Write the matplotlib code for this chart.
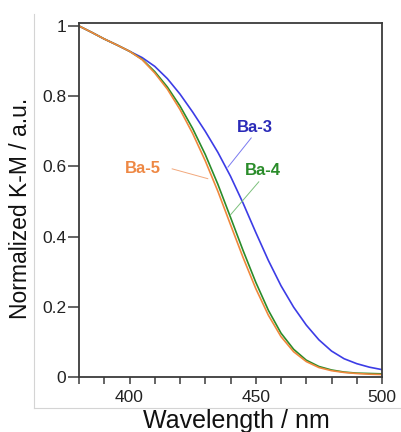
import matplotlib
matplotlib.use("Agg")
import matplotlib.pyplot as plt
from matplotlib.lines import Line2D
from matplotlib.ticker import MultipleLocator

plt.rcParams['font.family'] = ['Liberation Sans', 'DejaVu Sans']

# Wavelength grid (nm) and normalized K-M spectra
wavelength = [380, 385, 390, 395, 400, 405, 410, 415, 420, 425, 430, 435, 440,
              445, 450, 455, 460, 465, 470, 475, 480, 485, 490, 495, 500]
ba3 = [1.000, 0.982, 0.963, 0.946, 0.928, 0.910, 0.885, 0.850, 0.806, 0.755,
       0.700, 0.640, 0.572, 0.495, 0.412, 0.332, 0.260, 0.199, 0.148, 0.106,
       0.074, 0.052, 0.038, 0.028, 0.021]
ba4 = [1.000, 0.982, 0.963, 0.946, 0.928, 0.905, 0.870, 0.826, 0.772, 0.708,
       0.634, 0.549, 0.455, 0.360, 0.270, 0.190, 0.125, 0.079, 0.048, 0.030,
       0.020, 0.014, 0.011, 0.010, 0.009]
ba5 = [1.000, 0.982, 0.963, 0.946, 0.928, 0.904, 0.866, 0.820, 0.762, 0.694,
       0.616, 0.529, 0.434, 0.340, 0.252, 0.176, 0.115, 0.072, 0.044, 0.027,
       0.018, 0.013, 0.010, 0.008, 0.007]

x_ticks = [400, 450, 500]
y_ticks = [0, 0.2, 0.4, 0.6, 0.8, 1]
y_tick_labels = ["0", "0.2", "0.4", "0.6", "0.8", "1"]

fig = plt.figure(figsize=(4.02, 4.32), dpi=100)
ax = fig.add_axes([79 / 402, 1 - 377 / 432, (382 - 79) / 402, (377 - 23) / 432])

blue_line, green_line, orange_line = "#3c3ce6", "#2a8c2a", "#f0883c"
line_kw = dict(lw=1.2, solid_joinstyle='round', solid_capstyle='round')
ax.plot(wavelength, ba3, color=blue_line, **line_kw)
ax.plot(wavelength, ba4, color=green_line, **line_kw)
ax.plot(wavelength, ba5, color=orange_line, **line_kw)

ax.set_xlim(380, 500)
ax.set_ylim(0, 1.0085)
ax.set_xticks(x_ticks)
ax.xaxis.set_minor_locator(MultipleLocator(10))
ax.set_yticks(y_ticks)
ax.set_yticklabels(y_tick_labels)

spine_color = "#3a3a3a"
for s in ax.spines.values():
    s.set_color(spine_color)
    s.set_linewidth(1.3)
ax.tick_params(axis='both', which='major', direction='out', width=1.1,
               color=spine_color, labelsize=12.5, labelcolor="#222222")
ax.tick_params(axis='y', which='major', length=8, pad=1)
ax.tick_params(axis='x', which='major', length=5, pad=4)
ax.tick_params(axis='x', which='minor', direction='out', length=5, width=1.1,
               color=spine_color)

fig.text(236 / 402, 1 - 421 / 432, "Wavelength / nm", ha='center', va='center',
         fontsize=18, color="#111111")
fig.text(21 / 402, 1 - 208 / 432, "Normalized K-M / a.u.", ha='center', va='center',
         rotation=90, fontsize=16.5, color="#111111")

# Curve labels with thin leader lines
ax.text(449.8, 0.712, "Ba-3", color="#2a2ab8", fontsize=12, fontweight='bold',
        ha='center', va='center')
ax.plot([448.2, 439.0], [0.681, 0.598], color="#7a7af0", lw=0.7)
ax.text(452.8, 0.587, "Ba-4", color="#2a8c2a", fontsize=12, fontweight='bold',
        ha='center', va='center')
ax.plot([451.2, 440.0], [0.556, 0.462], color="#7cc07c", lw=0.7)
ax.text(405.4, 0.593, "Ba-5", color="#ee8844", fontsize=12, fontweight='bold',
        ha='center', va='center')
ax.plot([416.9, 431.0], [0.593, 0.565], color="#f2a87c", lw=0.7)

# Light frame around the panel
frame = "#d4d4d4"
fig.add_artist(Line2D([34 / 402, 34 / 402], [1 - 14 / 432, 1 - 408 / 432],
                      transform=fig.transFigure, color=frame, lw=0.8))
fig.add_artist(Line2D([34 / 402, 1.0], [1 - 408 / 432, 1 - 408 / 432],
                      transform=fig.transFigure, color=frame, lw=0.8))

fig.savefig("out.png", dpi=100)
